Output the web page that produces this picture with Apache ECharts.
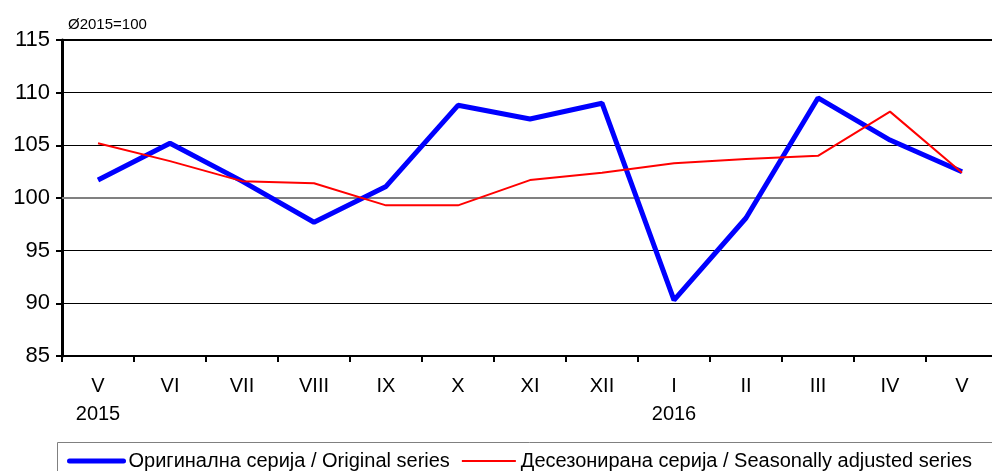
<!DOCTYPE html>
<html><head><meta charset="utf-8">
<script src="https://cdn.jsdelivr.net/npm/echarts@6/dist/echarts.min.js"></script>
<style>html,body{margin:0;padding:0;background:#fff;overflow:hidden;width:992px;height:471px}#c{width:1000px;height:471px}</style>
</head><body><div id="c"></div>
<script>
const months = ['V','VI','VII','VIII','IX','X','XI','XII','I','II','III','IV','V'];
const years = ['2015','','','','','','','','2016','','','',''];
const original = [101.7,105.2,101.6,97.7,101.1,108.8,107.5,109.0,90.3,98.1,109.5,105.5,102.5];
const adjusted = [105.2,103.5,101.6,101.4,99.3,99.3,101.7,102.4,103.3,103.7,104.0,108.2,102.4];
const yTicks = [85,90,95,100,105,110,115];
const seriesNames = ['Оригинална серија / Original series','Десезонирана серија / Seasonally adjusted series'];
const note = 'Ø2015=100';

const font = 'Liberation Sans, Arial, sans-serif';
const chart = echarts.init(document.getElementById('c'));
chart.setOption({
  animation:false,
  backgroundColor:'#fff',
  textStyle:{fontFamily:font},
  grid:{left:62, top:40, width:936, height:316, show:true, borderColor:'#000', borderWidth:2, backgroundColor:'transparent'},
  title:{text:note, left:63, top:12, textStyle:{fontSize:15, fontWeight:'normal', color:'#000', fontFamily:font}},
  legend:{left:62, top:446, itemWidth:54, itemHeight:14, itemGap:11,
    textStyle:{fontSize:20, color:'#000', fontFamily:font},
    itemStyle:{color:'rgba(0,0,0,0)', borderColor:'rgba(0,0,0,0)', borderWidth:0},
    data:[{name:seriesNames[0], lineStyle:{width:5, cap:'round', color:'#0000ff'}},
          {name:seriesNames[1], lineStyle:{width:2, color:'#ff0000'}}]},
  graphic:[{type:'rect', shape:{x:57.5, y:442.5, width:960, height:40}, style:{fill:'none', stroke:'#808080', lineWidth:1}, z:-1}],
  xAxis:{type:'category', data:months, boundaryGap:true,
    axisLine:{lineStyle:{color:'#000', width:2}},
    axisTick:{show:true, length:6, lineStyle:{color:'#000', width:2}, alignWithLabel:false},
    axisLabel:{color:'#000', fontSize:20, margin:16, lineHeight:28,
      formatter:(v,i)=> years[i] ? v+'\n'+years[i] : v}
  },
  yAxis:{type:'value', min:85, max:115, interval:5,
    axisLine:{show:true, lineStyle:{color:'#000', width:3}},
    axisTick:{show:true, length:6, lineStyle:{color:'#000', width:2}},
    axisLabel:{color:'#000', fontSize:22, margin:12, formatter:v=> yTicks.includes(v)? String(v):''},
    splitLine:{lineStyle:{color:'#000', width:1}}
  },
  series:[
    {name:seriesNames[0], type:'line', data:original, symbol:'none', lineStyle:{color:'#0000ff', width:5}, itemStyle:{color:'#0000ff'}, z:3,
     markLine:{silent:true, symbol:'none', label:{show:false}, lineStyle:{color:'#808080', width:2, type:'solid'}, data:[{yAxis:100}], z:1}},
    {name:seriesNames[1], type:'line', data:adjusted, symbol:'none', lineStyle:{color:'#ff0000', width:2}, itemStyle:{color:'#ff0000'}, z:4}
  ]
});
</script></body></html>
